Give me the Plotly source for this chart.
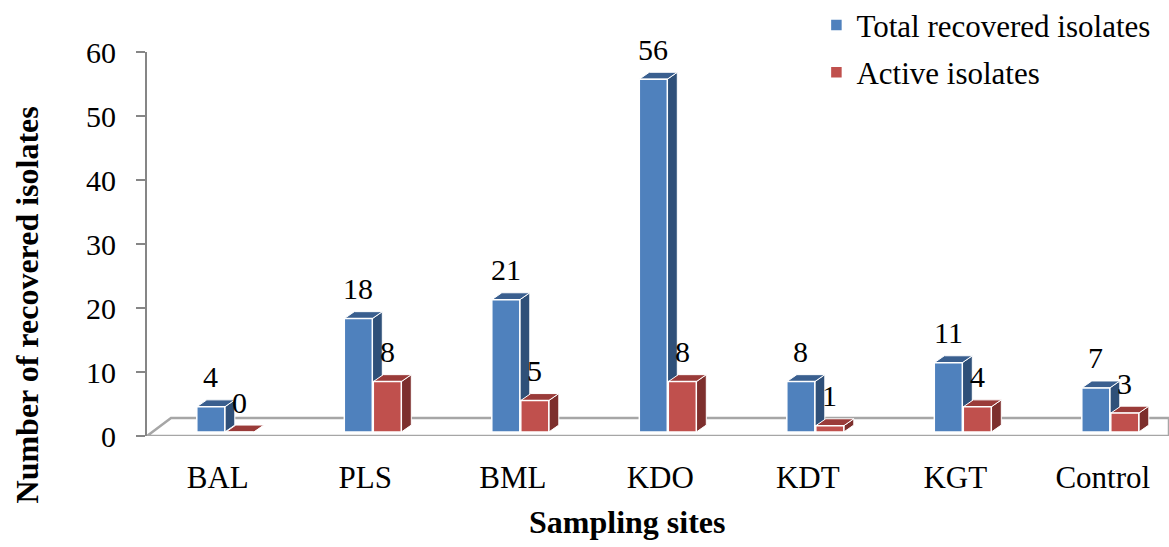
import plotly.graph_objects as go

categories = ["BAL", "PLS", "BML", "KDO", "KDT", "KGT", "Control"]
total_isolates = [4, 18, 21, 56, 8, 11, 7]
active_isolates = [0, 8, 5, 8, 1, 4, 3]
series_names = ["Total recovered isolates", "Active isolates"]
y_ticks = [0, 10, 20, 30, 40, 50, 60]

# style
FONT = "'Liberation Serif', 'Times New Roman', serif"
PX_PER_CAT = 147.5
BAR_W = 28 / PX_PER_CAT
OFFSETS = [-21 / PX_PER_CAT, 8 / PX_PER_CAT]
DX = 10 / PX_PER_CAT          # depth offset (x units)
DY = 1.1                      # depth offset (y2 units)
FRONT = ["#4F81BD", "#C0504D"]
SIDE = ["#2F5079", "#7D2F2D"]
TOP = ["#3A5F8F", "#9A3B39"]

xs = list(range(len(categories)))
fig = go.Figure()

shapes = []
# floor
shapes.append(dict(type="path", xref="paper", yref="y",
                   path="M 0,0 L 0.0235,2.8 L 1,2.8 L 1,0 Z",
                   fillcolor="white", line=dict(color="#A6A6A6", width=2.5),
                   layer="below"))

annotations = []
for s, vals in enumerate([total_isolates, active_isolates]):
    fig.add_trace(go.Bar(
        x=xs, y=vals, name=series_names[s], yaxis="y2",
        width=BAR_W, offset=OFFSETS[s],
        marker=dict(color=FRONT[s], line=dict(color="white", width=1.5)),
        legendgroup=str(s), hoverinfo="x+y"))
    for x, v in zip(xs, vals):
        xl = x + OFFSETS[s]
        xr = xl + BAR_W
        # side face
        shapes.append(dict(type="path", xref="x", yref="y2", layer="below",
                           path=f"M {xr},0 L {xr},{v} L {xr+DX},{v+DY} L {xr+DX},{DY} Z",
                           fillcolor=SIDE[s], line=dict(color="white", width=1)))
        # top face
        shapes.append(dict(type="path", xref="x", yref="y2", layer="below",
                           path=f"M {xl},{v} L {xr},{v} L {xr+DX},{v+DY} L {xl+DX},{v+DY} Z",
                           fillcolor=TOP[s], line=dict(color="white", width=1)))
        annotations.append(dict(x=(xl + xr) / 2, y=v, xref="x", yref="y2",
                                text=str(v), showarrow=False, yshift=30,
                                font=dict(family=FONT, size=30, color="black")))

annotations.append(dict(text="<b>Number of recovered isolates</b>", xref="paper", yref="paper",
                        x=-0.117, y=0.341, textangle=-90, showarrow=False,
                        xanchor="center", yanchor="middle",
                        font=dict(family=FONT, size=32, color="black")))
annotations.append(dict(text="<b>Sampling sites</b>", xref="paper", yref="paper",
                        x=0.47, y=-0.225, showarrow=False,
                        xanchor="center", yanchor="middle",
                        font=dict(family=FONT, size=32, color="black")))

fig.update_layout(
    width=1169, height=547,
    margin=dict(l=147, r=0, t=52, b=111, autoexpand=False),
    plot_bgcolor="white", paper_bgcolor="white",
    barmode="overlay",
    shapes=shapes, annotations=annotations,
    showlegend=True,
    legend=dict(x=0.655, y=1.14, xanchor="left", yanchor="top",
                font=dict(family=FONT, size=31, color="black"),
                bgcolor="rgba(0,0,0,0)", tracegroupgap=4, itemwidth=30),
    xaxis=dict(range=[-0.48, -0.48 + 1022 / PX_PER_CAT], tickmode="array",
               tickvals=xs, ticktext=categories, showgrid=False, zeroline=False,
               showline=False, ticks="", ticklabelstandoff=20,
               tickfont=dict(family=FONT, size=31, color="black")),
    yaxis=dict(range=[0, 60], tickmode="array", tickvals=y_ticks,
               showgrid=False, zeroline=False, showline=True,
               linecolor="#868686", linewidth=2, ticks="outside", ticklen=9,
               tickcolor="#868686", tickwidth=2, ticklabelstandoff=14,
               tickfont=dict(family=FONT, size=30, color="black")),
    yaxis2=dict(range=[-0.635, -0.635 + 384 / 6.3], overlaying="y", visible=False),
)

fig.write_html("out.html")
